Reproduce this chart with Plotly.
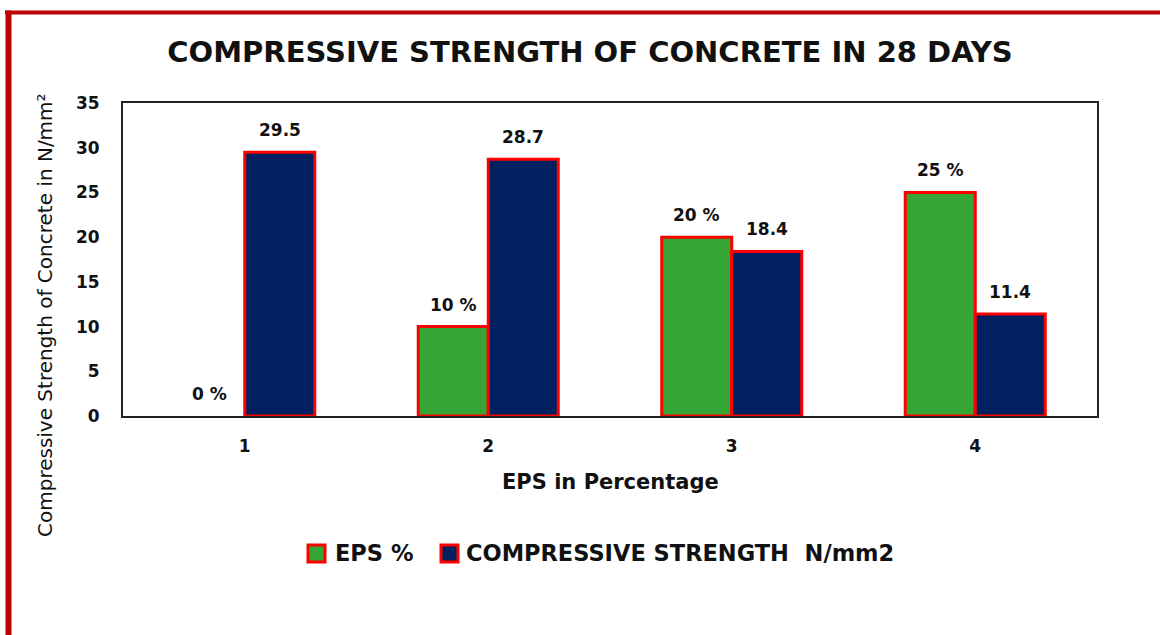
import plotly.graph_objects as go

categories = ["1", "2", "3", "4"]
eps_values = [0, 10, 20, 25]
eps_labels = ["0 %", "10 %", "20 %", "25 %"]
strength_values = [29.5, 28.7, 18.4, 11.4]
strength_labels = ["29.5", "28.7", "18.4", "11.4"]
y_ticks = [0, 5, 10, 15, 20, 25, 30, 35]
series_names = ["EPS %", "COMPRESSIVE STRENGTH\u00a0 N/mm2"]

FONT = "DejaVu Sans"
GREEN = "#35A535"
NAVY = "#002060"
RED = "#FF0000"
TXT = "#111111"

L, T, W, H = 123, 103, 974, 313
def px(xp):
    return (xp - L) / W
def py(yp):
    return (T + H - yp) / H

fig = go.Figure()
fig.add_trace(go.Bar(
    x=categories, y=eps_values, name=series_names[0],
    marker=dict(color=GREEN, line=dict(color=RED, width=[0 if v == 0 else 3 for v in eps_values])),
    showlegend=False,
))
fig.add_trace(go.Bar(
    x=categories, y=strength_values, name=series_names[1],
    marker=dict(color=NAVY, line=dict(color=RED, width=3)),
    showlegend=False,
))

annotations = []
label_font = dict(family=FONT, size=17, color=TXT, weight="bold")
for i, (v, t) in enumerate(zip(eps_values, eps_labels)):
    annotations.append(dict(x=i, y=v, xref="x", yref="y", text=t, showarrow=False,
                            xshift=-35, yshift=22, yanchor="middle", font=label_font))
for i, (v, t) in enumerate(zip(strength_values, strength_labels)):
    annotations.append(dict(x=i, y=v, xref="x", yref="y", text=t, showarrow=False,
                            xshift=35, yshift=22, yanchor="middle", font=label_font))

# axis titles
annotations.append(dict(text="Compressive Strength of Concrete in N/mm²", textangle=-90,
                        xref="paper", yref="paper", x=px(45), y=py(315),
                        xanchor="center", yanchor="middle", showarrow=False,
                        font=dict(family=FONT, size=20, color=TXT)))
annotations.append(dict(text="<b>EPS in Percentage</b>", xref="paper", yref="paper",
                        x=px(610), y=py(482), xanchor="center", yanchor="middle", showarrow=False,
                        font=dict(family=FONT, size=21, color=TXT)))

# legend (drawn manually)
legend_font = dict(family=FONT, size=22.5, color=TXT, weight="bold")
annotations.append(dict(text=series_names[0], xref="paper", yref="paper", x=px(333), y=py(553),
                        xanchor="left", yanchor="middle", showarrow=False, font=legend_font))
annotations.append(dict(text=series_names[1], xref="paper", yref="paper", x=px(464), y=py(553),
                        xanchor="left", yanchor="middle", showarrow=False, font=legend_font))

shapes = [
    dict(type="rect", xref="paper", yref="paper", x0=px(308), x1=px(325), y0=py(545), y1=py(562),
         fillcolor=GREEN, line=dict(color=RED, width=3)),
    dict(type="rect", xref="paper", yref="paper", x0=px(441), x1=px(458), y0=py(545), y1=py(562),
         fillcolor=NAVY, line=dict(color=RED, width=3)),
    # outer red frame
    dict(type="line", xref="paper", yref="paper", x0=px(5), x1=px(1165), y0=py(12.5), y1=py(12.5),
         line=dict(color="#C00000", width=4)),
    dict(type="line", xref="paper", yref="paper", x0=px(8.5), x1=px(8.5), y0=py(10.5), y1=py(640),
         line=dict(color="#C00000", width=6)),
]

fig.update_layout(
    width=1160, height=635,
    margin=dict(l=L, r=1160 - L - W, t=T, b=635 - T - H, autoexpand=False),
    paper_bgcolor="white", plot_bgcolor="white",
    barmode="group", bargap=0.425, bargroupgap=0,
    font=dict(family=FONT, color=TXT),
    title=dict(text="<b>COMPRESSIVE STRENGTH OF CONCRETE IN 28 DAYS</b>",
               x=590 / 1160, xanchor="center", y=1 - 52 / 635, yanchor="middle",
               font=dict(family=FONT, size=29, color=TXT)),
    xaxis=dict(type="category", range=[-0.5, 3.5], showline=True, linecolor="#222222", linewidth=2, mirror=True,
               ticks="", ticklabelstandoff=14, tickfont=dict(family=FONT, size=17, color=TXT, weight="bold")),
    yaxis=dict(range=[0, 35], tickvals=y_ticks, showgrid=False, zeroline=False,
               showline=True, linecolor="#222222", linewidth=2, mirror=True,
               ticks="", ticklabelstandoff=18,
               tickfont=dict(family=FONT, size=17, color=TXT, weight="bold")),
    showlegend=False,
    annotations=annotations,
    shapes=shapes,
)
fig.write_html("out.html", config={"displayModeBar": False},
               post_script="document.body.style.margin='0px';")
